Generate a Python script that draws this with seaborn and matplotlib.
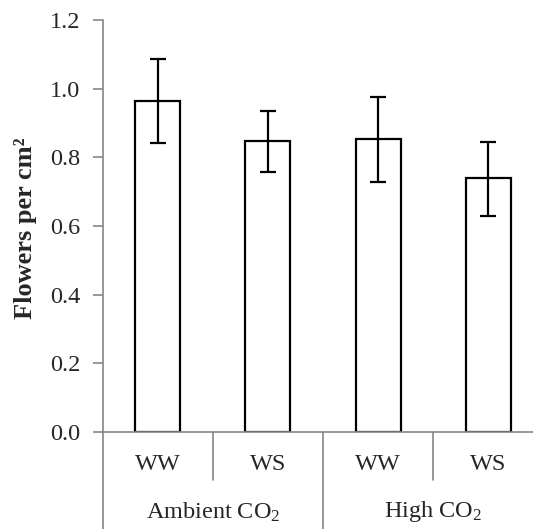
import matplotlib
matplotlib.use("Agg")
import matplotlib.pyplot as plt
import matplotlib.transforms as mtransforms
import seaborn as sns
import pandas as pd

# data
conditions = ["WW", "WS", "WW", "WS"]
groups = ["Ambient CO$_2$", "High CO$_2$"]
means = [0.965, 0.847, 0.852, 0.739]
err_low = [0.842, 0.758, 0.728, 0.629]
err_high = [1.086, 0.936, 0.975, 0.845]
yticks = [0.0, 0.2, 0.4, 0.6, 0.8, 1.0, 1.2]

sns.set_style("white")
plt.rcParams["font.family"] = ["Liberation Serif", "DejaVu Serif"]
plt.rcParams["mathtext.fontset"] = "custom"
plt.rcParams["mathtext.rm"] = "Liberation Serif"
plt.rcParams["mathtext.it"] = "Liberation Serif:italic"
plt.rcParams["mathtext.bf"] = "Liberation Serif:bold"

grey = "#868686"
FS = 17.5
df = pd.DataFrame({"pos": [f"c{i}" for i in range(len(means))], "val": means})

fig = plt.figure(figsize=(5.33, 5.29), dpi=100)
ax = fig.add_axes([102.5 / 533, (529 - 432) / 529, 1 - 102.5 / 533, (432 - 20) / 529])

sns.barplot(data=df, x="pos", y="val", ax=ax, color="white", edgecolor="black",
            linewidth=1.6, width=0.41, errorbar=None)
for p in ax.patches:
    p.set_facecolor("white")

xs = list(range(len(means)))
lo = [m - l for m, l in zip(means, err_low)]
hi = [h - m for m, h in zip(means, err_high)]
ax.errorbar(xs, means, yerr=[lo, hi], fmt="none", ecolor="black", elinewidth=1.6,
            capsize=5.5, capthick=1.6, zorder=5)

ax.set_ylim(0, 1.2)
ax.set_xlim(-0.5, -0.5 + 430.5 / 110.25)
ax.set_yticks(yticks)
ax.set_yticklabels([f"{t:.1f}" for t in yticks], fontsize=FS)
ax.tick_params(axis="y", left=True, length=7, width=1.2, color=grey, direction="out", pad=9)
ax.set_xticks(xs)
ax.set_xticklabels(conditions, fontsize=FS)
ax.tick_params(axis="x", bottom=False, length=0, pad=16)
ax.set_xlabel("")
ax.set_ylabel("Flowers per cm²", fontsize=19, fontweight="bold")
ax.yaxis.set_label_coords(-0.152, 0.494)

for s in ["top", "right"]:
    ax.spines[s].set_visible(False)
for s in ["left", "bottom"]:
    ax.spines[s].set_color(grey)
    ax.spines[s].set_linewidth(1.2)

trans = mtransforms.blended_transform_factory(ax.transData, ax.transAxes)
axh = 412.0
short_y = -(480 - 432) / axh
long_y = -(529 - 432) / axh
for x, yb in [(-0.5, long_y), (0.5, short_y), (1.5, long_y), (2.5, short_y)]:
    ax.plot([x, x], [0, yb], transform=trans, color=grey, lw=1.2, clip_on=False)

for gx, g in zip([0.5, 2.5], groups):
    ax.text(gx, -(512 - 432) / axh, g, transform=trans, ha="center", va="center",
            fontsize=FS)

fig.savefig("out.png", dpi=100)
